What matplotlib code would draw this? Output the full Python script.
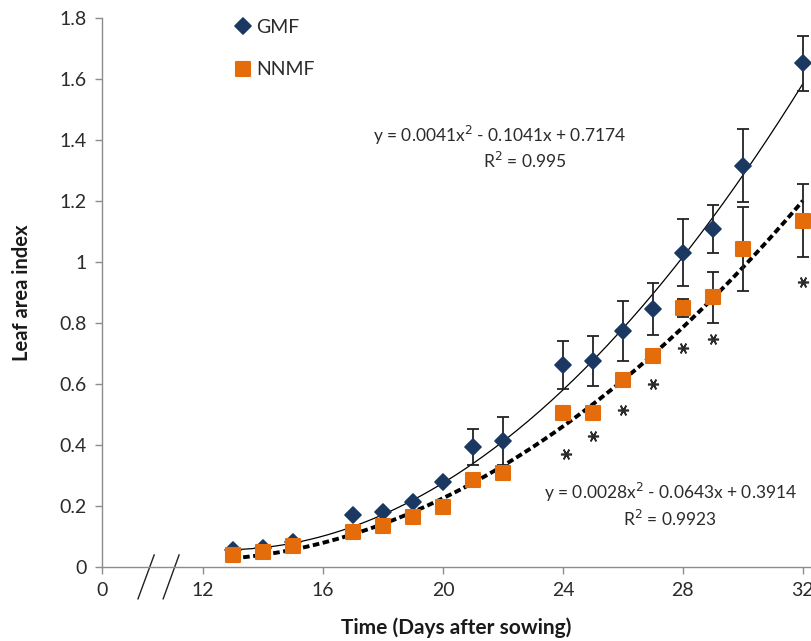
import matplotlib
matplotlib.use("Agg")
import matplotlib.pyplot as plt
import matplotlib.transforms as mtransforms
from matplotlib.markers import MarkerStyle
import numpy as np

plt.rcParams['font.family'] = ['Lato', 'DejaVu Sans']

# ---- data ----
days = [13, 14, 15, 17, 18, 19, 20, 21, 22, 24, 25, 26, 27, 28, 29, 30, 32]
gmf = [0.056, 0.061, 0.083, 0.170, 0.181, 0.214, 0.280, 0.394, 0.414, 0.662,
       0.675, 0.774, 0.847, 1.030, 1.108, 1.316, 1.651]
gmf_err = [0, 0, 0, 0, 0, 0, 0, 0.058, 0.078, 0.078, 0.082, 0.098, 0.085,
           0.110, 0.078, 0.119, 0.091]
nnmf = [0.039, 0.050, 0.069, 0.116, 0.134, 0.165, 0.198, 0.285, 0.307, 0.506,
        0.506, 0.614, 0.693, 0.849, 0.884, 1.043, 1.135]
nnmf_err = [0, 0, 0, 0, 0, 0, 0, 0, 0, 0, 0, 0, 0, 0.030, 0.083, 0.138, 0.120]

star_x = [24.1, 25.0, 26.0, 27.0, 28.0, 29.0, 32.0]
star_y = [0.37, 0.43, 0.515, 0.60, 0.718, 0.748, 0.935]

gmf_coef = [0.0041, -0.1041, 0.7174]
nnmf_coef = [0.0028, -0.0643, 0.3914]
gmf_eq = "y = 0.0041x$^2$ - 0.1041x + 0.7174"
gmf_r2 = "R$^2$ = 0.995"
nnmf_eq = "y = 0.0028x$^2$ - 0.0643x + 0.3914"
nnmf_r2 = "R$^2$ = 0.9923"

x_ticks = [8.63, 12, 16, 20, 24, 28, 32]
x_ticklabels = ["0", "12", "16", "20", "24", "28", "32"]
y_ticks = [0, 0.2, 0.4, 0.6, 0.8, 1.0, 1.2, 1.4, 1.6, 1.8]
y_ticklabels = ["0", "0.2", "0.4", "0.6", "0.8", "1", "1.2", "1.4", "1.6", "1.8"]

navy = '#1b3862'
orange = '#e46c0a'
txt = '#2b2b2b'
gray = '#8c8c8c'

fig = plt.figure(figsize=(8.11, 6.41), dpi=100)
ax = fig.add_axes([102/811, 74/641, (811-102)/811, (567-18)/641])

# trend lines
xs = np.linspace(min(days), max(days), 200)
ax.plot(xs, np.polyval(gmf_coef, xs), color='black', lw=0.9, zorder=2)
ax.plot(xs, np.polyval(nnmf_coef, xs), color='black', lw=2.8, ls=(0, (1.7, 0.9)), zorder=2)

# error bars
ax.errorbar(days, gmf, yerr=gmf_err, fmt='none', ecolor='#222222', elinewidth=1.3,
            capsize=4, capthick=1.3, zorder=3)
ax.errorbar(days, nnmf, yerr=nnmf_err, fmt='none', ecolor='#222222', elinewidth=1.3,
            capsize=4, capthick=1.3, zorder=3)

# markers
h1, = ax.plot(days, gmf, ls='none', marker=MarkerStyle('D', joinstyle='round'), ms=8,
              color=navy, mec=navy, mew=1.2, zorder=4, clip_on=False, label='GMF')
h2, = ax.plot(days, nnmf, ls='none', marker=MarkerStyle('s', joinstyle='round'), ms=9.5,
              color=orange, mec=orange, mew=1.5, zorder=4, clip_on=False, label='NNMF')

# significance stars
ax.plot(star_x, star_y, ls='none', marker=(6, 2, 90), ms=8, mew=1.2, color=txt, zorder=4)

# equations
EQ = 12.5
ax.text(21.87, (567-135)/305, gmf_eq, ha='center', va='center', fontsize=EQ, color=txt)
ax.text(22.73, (567-161)/305, gmf_r2, ha='center', va='center', fontsize=EQ, color=txt)
ax.text(27.57, (567-492)/305, nnmf_eq, ha='center', va='center', fontsize=EQ, color=txt)
ax.text(27.57, (567-519)/305, nnmf_r2, ha='center', va='center', fontsize=EQ, color=txt)

# legend
leg = ax.legend(handles=[h1, h2], loc='upper left', bbox_to_anchor=(0.165, 1.03),
                frameon=False, handlelength=0.7, handletextpad=0.3, labelspacing=1.3,
                fontsize=14, numpoints=1)
for t in leg.get_texts():
    t.set_color(txt)

# axes styling
ax.set_xlim(8.63, 32.27)
ax.set_ylim(0, 1.8)
ax.set_xticks(x_ticks)
ax.set_xticklabels(x_ticklabels)
ax.set_yticks(y_ticks)
ax.set_yticklabels(y_ticklabels)
for s in ['top', 'right']:
    ax.spines[s].set_visible(False)
for s in ['left', 'bottom']:
    ax.spines[s].set_color(gray)
    ax.spines[s].set_linewidth(1.0)
ax.tick_params(axis='both', direction='out', length=5, width=1.0, color=gray,
               labelsize=14, labelcolor=txt, pad=6)
ax.set_xlabel('Time (Days after sowing)', fontsize=15, fontweight='bold', color='#1a1a1a', labelpad=13)
ax.set_ylabel('Leaf area index', fontsize=14.5, fontweight='bold', color='#1a1a1a', labelpad=20)

# axis break marks
trans = mtransforms.blended_transform_factory(ax.transData, ax.transAxes)
for x_top, x_bot in [(10.37, 9.83), (11.2, 10.67)]:
    ax.plot([x_top, x_bot], [0.022, -0.058], color='#222222', lw=1.0,
            transform=trans, clip_on=False)

fig.savefig('out.png', dpi=100)
